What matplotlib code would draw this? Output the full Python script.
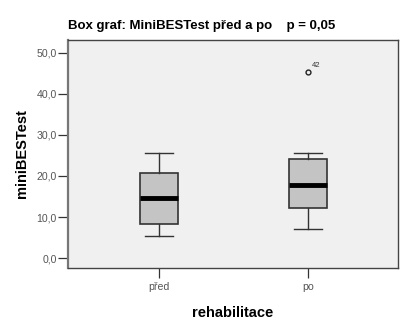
import matplotlib
matplotlib.use("Agg")
import matplotlib.pyplot as plt

plt.rcParams['font.family'] = ['Liberation Sans', 'DejaVu Sans']

categories = ["před", "po"]
whisker_low = [5.3, 7.2]
q1 = [8.3, 12.2]
medians = [14.7, 17.8]
q3 = [20.7, 24.2]
whisker_high = [25.6, 25.6]
outliers = [[], [45.2]]
outlier_ids = [[], ["42"]]
yticks = [0, 10, 20, 30, 40, 50]

fig = plt.figure(figsize=(4.07, 3.28), dpi=100)
fig.patch.set_facecolor("white")
ax = fig.add_axes([0.168, 0.183, 0.809, 0.695])
ax.set_facecolor("#f0f0f0")

stats = []
for i, name in enumerate(categories):
    stats.append(dict(label=name, whislo=whisker_low[i], q1=q1[i], med=medians[i],
                      q3=q3[i], whishi=whisker_high[i], fliers=outliers[i]))

positions = [1, 2]
ax.bxp(stats, positions=positions, widths=0.254, patch_artist=True,
       boxprops=dict(facecolor="#c4c4c4", edgecolor="#333333", linewidth=1.2),
       medianprops=dict(color="black", linewidth=3.5, solid_capstyle="butt"),
       whiskerprops=dict(color="#333333", linewidth=1.0),
       capprops=dict(color="#333333", linewidth=1.0),
       flierprops=dict(marker="o", markersize=3.5, markerfacecolor="none",
                       markeredgecolor="#222222", markeredgewidth=1.0),
       capwidths=0.19)

for i, pos in enumerate(positions):
    for val, lab in zip(outliers[i], outlier_ids[i]):
        ax.annotate(lab, (pos, val), xytext=(3, 4), textcoords="offset points",
                    fontsize=5.5, color="#333333")

ax.set_xlim(0.388, 2.605)
ax.set_ylim(-2.4, 53.1)
ax.set_yticks(yticks)
ax.set_yticklabels([f"{v:.1f}".replace(".", ",") for v in yticks])
ax.set_xticks(positions)
ax.set_xticklabels(categories)
ax.tick_params(axis="both", labelsize=7.6, labelcolor="#555555", color="#333333",
               length=7, width=0.9, direction="out", pad=1.5)
ax.tick_params(axis="x", pad=3)

for side, sp in ax.spines.items():
    sp.set_color("#444444")
    sp.set_linewidth(1.0)
ax.spines["left"].set_color("#777777")
ax.spines["left"].set_linewidth(1.6)

ax.set_ylabel("miniBESTest", fontsize=10.5, fontweight="bold", labelpad=5)
ax.set_xlabel("rehabilitace", fontsize=10.5, fontweight="bold", labelpad=10)
fig.text(0.168, 0.912, "Box graf: MiniBESTest před a po    p = 0,05",
         fontsize=9.5, fontweight="bold", ha="left", va="baseline")

fig.savefig("out.png", dpi=100)
